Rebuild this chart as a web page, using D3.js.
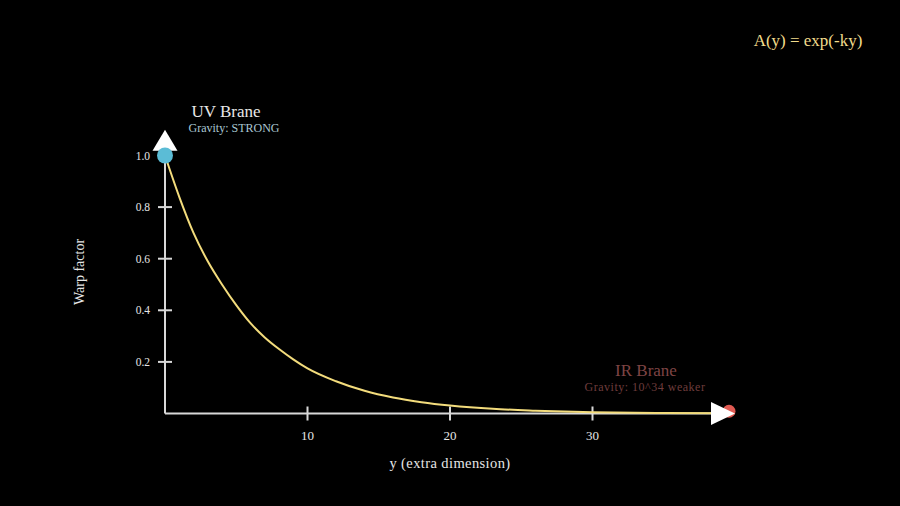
<!DOCTYPE html>
<html lang="en">
<head>
    <meta charset="UTF-8">
    <script src="https://cdn.jsdelivr.net/npm/d3@7"></script>
    <title>Warp factor</title>
    <style>
        html, body { margin: 0; padding: 0; background: #000; }
        svg { display: block; }
        text { font-family: "Liberation Serif", "DejaVu Serif", serif; }
    </style>
</head>
<body>
<div id="chart"></div>
<script>
// values
const depth = [0, 1, 2, 3, 4, 5, 6, 7, 8, 9, 10, 12, 14, 16, 18, 20, 23, 26, 30, 35, 40];
const warp  = [1.0, 0.84, 0.70, 0.59, 0.50, 0.42, 0.35, 0.295, 0.25, 0.21, 0.175, 0.125, 0.088, 0.062, 0.044, 0.031, 0.018, 0.011, 0.005, 0.002, 0.001];
const xTicks = [10, 20, 30];
const yTicks = [0.2, 0.4, 0.6, 0.8, 1.0];

const W = 900, H = 506;
const svg = d3.select("#chart").append("svg").attr("width", W).attr("height", H);

const x = d3.scaleLinear().domain([0, 40]).range([165, 735]);
const y = d3.scaleLinear().domain([0, 1]).range([413.5, 155.5]);

const axisColor = "#d8d8d8";

// x axis line + ticks
svg.append("line")
    .attr("x1", x(0)).attr("x2", x(40) - 20)
    .attr("y1", y(0)).attr("y2", y(0))
    .attr("stroke", axisColor).attr("stroke-width", 2);
svg.selectAll(".xt").data(xTicks).enter().append("line")
    .attr("x1", d => x(d)).attr("x2", d => x(d))
    .attr("y1", y(0) - 7).attr("y2", y(0) + 7)
    .attr("stroke", axisColor).attr("stroke-width", 2);
svg.selectAll(".xl").data(xTicks).enter().append("text")
    .attr("x", d => x(d)).attr("y", y(0) + 26)
    .attr("text-anchor", "middle").attr("fill", "#e6e6e6")
    .attr("font-size", 13).text(d => d);

// y axis line + ticks
svg.append("line")
    .attr("x1", x(0)).attr("x2", x(0))
    .attr("y1", y(0)).attr("y2", y(1.1) + 18)
    .attr("stroke", axisColor).attr("stroke-width", 2);
svg.selectAll(".yt").data(yTicks).enter().append("line")
    .attr("x1", x(0) - 7).attr("x2", x(0) + 7)
    .attr("y1", d => y(d)).attr("y2", d => y(d))
    .attr("stroke", axisColor).attr("stroke-width", 2);
svg.selectAll(".yl").data(yTicks).enter().append("text")
    .attr("x", x(0) - 15).attr("y", d => y(d) + 4)
    .attr("text-anchor", "end").attr("fill", "#e6e6e6")
    .attr("font-size", 11.5).text(d => d.toFixed(1));

// curve
const line = d3.line().curve(d3.curveMonotoneX)
    .x((d, i) => x(depth[i])).y(d => y(d));
svg.append("path").datum(warp)
    .attr("fill", "none").attr("stroke", "#f3dc7c")
    .attr("stroke-width", 2).attr("d", line);

// IR brane dot sits behind the arrow head
svg.append("circle")
    .attr("cx", x(40) - 6).attr("cy", y(warp[warp.length - 1]) - 2).attr("r", 6.5)
    .attr("fill", "#e05a52");

// arrow heads
const xTip = [x(40), y(0)];
svg.append("path")
    .attr("d", `M${xTip[0]},${xTip[1]} L${xTip[0] - 24},${xTip[1] - 11.5} L${xTip[0] - 24},${xTip[1] + 11.5} Z`)
    .attr("fill", "#fff");
const yTip = [x(0), y(1.1)];
svg.append("path")
    .attr("d", `M${yTip[0]},${yTip[1]} L${yTip[0] - 12.5},${yTip[1] + 21} L${yTip[0] + 12.5},${yTip[1] + 21} Z`)
    .attr("fill", "#fff");

// UV brane dot
svg.append("circle")
    .attr("cx", x(0)).attr("cy", y(warp[0])).attr("r", 8)
    .attr("fill", "#5bbcd6");

// labels
svg.append("text").attr("x", 226).attr("y", 117)
    .attr("text-anchor", "middle").attr("fill", "#e8e8e8").attr("font-size", 17)
    .text("UV Brane");
svg.append("text").attr("x", 234).attr("y", 132)
    .attr("text-anchor", "middle").attr("fill", "#a9c6d2").attr("font-size", 12)
    .text("Gravity: STRONG");

svg.append("text").attr("x", 646).attr("y", 376)
    .attr("text-anchor", "middle").attr("fill", "#7e4444").attr("font-size", 17)
    .text("IR Brane");
svg.append("text").attr("x", 645).attr("y", 391)
    .attr("text-anchor", "middle").attr("fill", "#6e3c3c").attr("font-size", 12)
    .attr("letter-spacing", 0.5)
    .text("Gravity: 10^34 weaker");

svg.append("text").attr("x", 808).attr("y", 46)
    .attr("text-anchor", "middle").attr("fill", "#f1dc8c").attr("font-size", 17)
    .text("A(y) = exp(-ky)");

svg.append("text")
    .attr("transform", "translate(84,272) rotate(-90)")
    .attr("text-anchor", "middle").attr("fill", "#e6e6e6").attr("font-size", 14)
    .text("Warp factor");
svg.append("text").attr("x", 450).attr("y", 468)
    .attr("text-anchor", "middle").attr("fill", "#e6e6e6").attr("font-size", 14.5)
    .attr("letter-spacing", 0.4)
    .text("y (extra dimension)");
</script>
</body>
</html>
